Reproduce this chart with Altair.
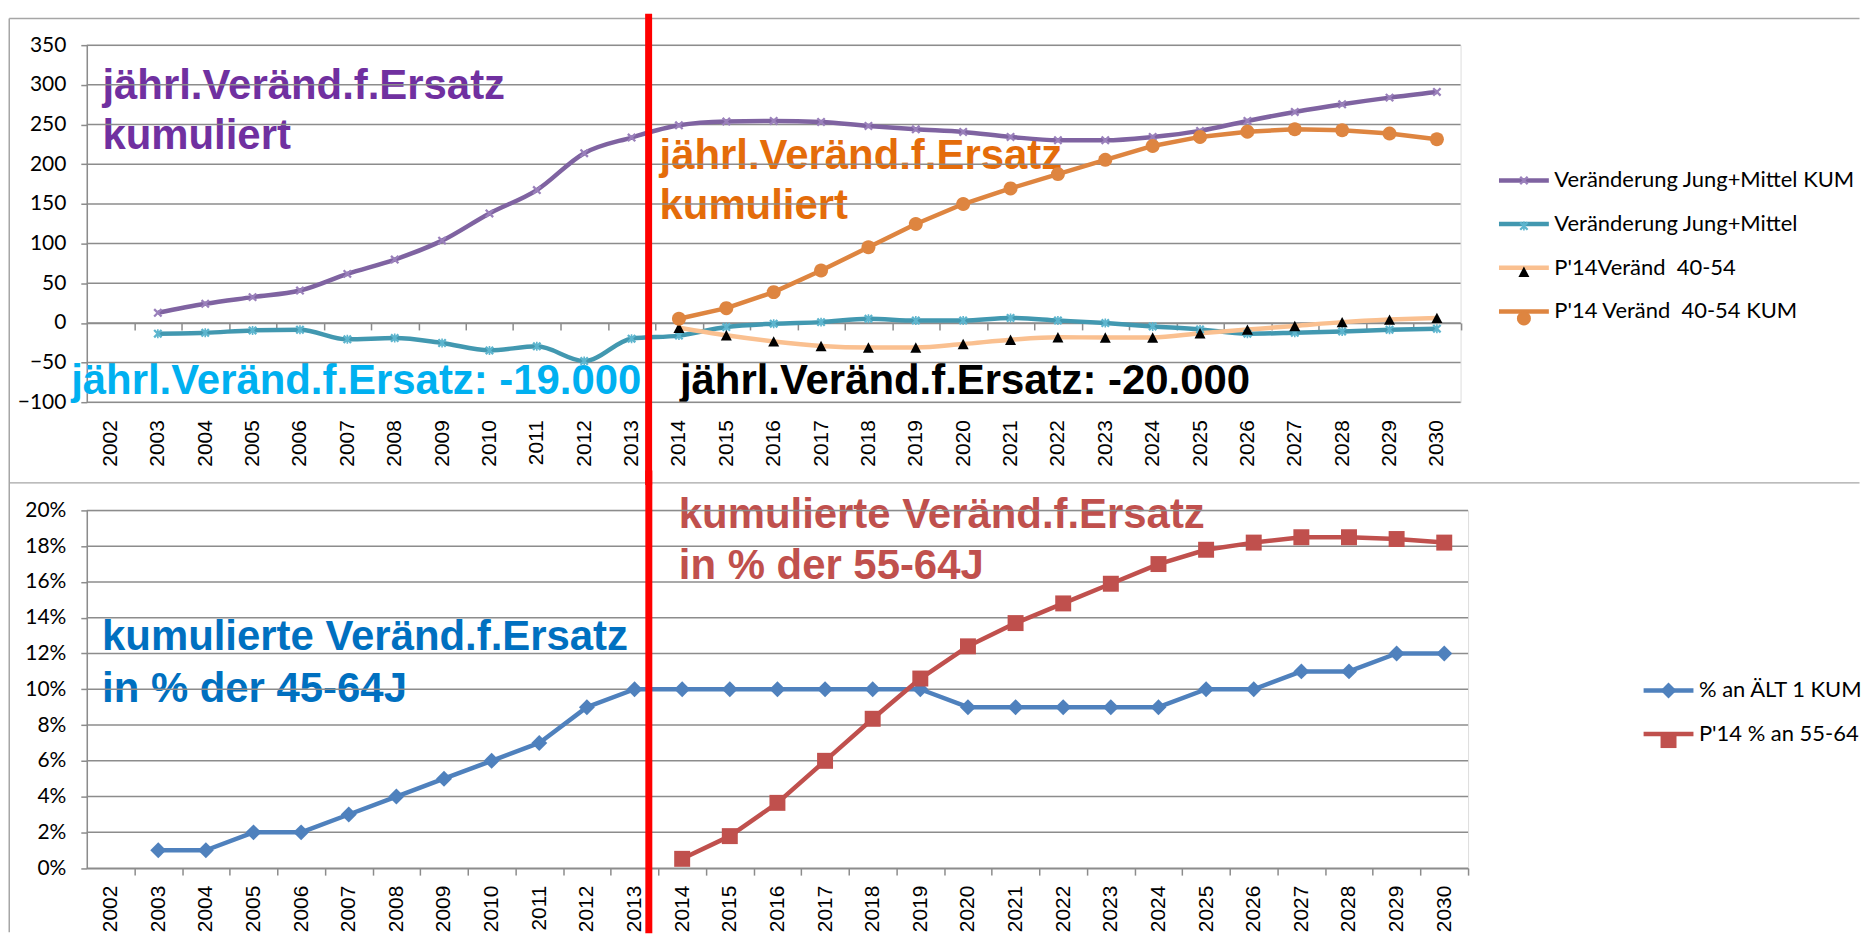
import math
import altair as alt
import pandas as pd

# ---------------- data ----------------
YEARS = list(range(2002, 2031))

TOP_SERIES = ["Veränderung Jung+Mittel KUM", "Veränderung Jung+Mittel",
              "P'14Veränd \u00a040-54", "P'14 Veränd \u00a040-54 KUM"]
TOP_MARKERS = ["mk1", "mk2", "mk3", "mk4"]

jm_kum_years = list(range(2003, 2031))
jm_kum = [12.8, 24.1, 32.5, 40.8, 61.8, 79.8, 103.7, 138.0, 167.4, 213.9, 233.6,
          249.0, 253.7, 254.5, 253.3, 248.2, 244.0, 240.7, 234.4, 230.2, 230.2,
          234.4, 242.0, 254.5, 265.8, 275.5, 283.9, 291.0]
jm_years = list(range(2003, 2031))
jm = [-13.6, -12.4, -9.4, -8.6, -20.7, -19.1, -25.3, -34.6, -29.5, -48.0, -19.9,
      -16.0, -5.2, -1.0, 1.0, 5.2, 3.0, 3.0, 6.3, 3.1, -0.2, -4.4, -8.2, -13.6,
      -12.4, -10.7, -8.6, -7.3]
p14_years = list(range(2014, 2031))
p14 = [-6.0, -15.5, -23.3, -29.0, -31.0, -31.0, -26.6, -21.2, -18.0, -18.4, -18.4,
       -13.0, -8.4, -3.8, 1.0, 4.2, 6.3]
p14_kum = [5.2, 18.6, 38.8, 66.0, 95.3, 124.7, 149.8, 169.5, 187.5, 205.5, 223.0,
           234.4, 241.0, 244.0, 242.8, 238.6, 231.5]

BOT_SERIES = ["% an ÄLT 1 KUM", "P'14 % an 55-64"]
BOT_MARKERS = ["nk1", "nk2"]
alt1_years = list(range(2003, 2031))
alt1_pct = [1, 1, 2, 2, 3, 4, 5, 6, 7, 9, 10, 10, 10, 10, 10, 10, 10, 9, 9, 9, 9, 9,
            10, 10, 11, 11, 12, 12]
p14pct_years = list(range(2014, 2031))
p14pct = [0.52, 1.79, 3.65, 6.0, 8.35, 10.6, 12.4, 13.7, 14.8, 15.9, 17.0, 17.8,
          18.2, 18.5, 18.5, 18.4, 18.2]

TOP_TICKS = list(range(-100, 351, 50))
BOT_TICKS = [i / 100 for i in range(0, 21, 2)]

# annotations (text, year-position, value-position)
TOP_ANN = [
    ("jährl.Veränd.f.Ersatz", 2001.83, 282.3, "#7030A0"),
    ("kumuliert", 2001.83, 218.6, "#7030A0"),
    ("jährl.Veränd.f.Ersatz", 2013.59, 194.3, "#E46C0A"),
    ("kumuliert", 2013.59, 131.5, "#E46C0A"),
    ("jährl.Veränd.f.Ersatz: -19.000", 2001.17, -89.3, "#00B0F0"),
    ("jährl.Veränd.f.Ersatz: -20.000", 2014.02, -89.3, "#000000"),
]
BOT_ANN = [
    ("kumulierte Veränd.f.Ersatz", 2001.82, 0.1219, "#0070C0"),
    ("in % der 45-64J", 2001.82, 0.0931, "#0070C0"),
    ("kumulierte Veränd.f.Ersatz", 2013.93, 0.1901, "#C0504D"),
    ("in % der 55-64J", 2013.93, 0.1619, "#C0504D"),
]
SPLIT_TOP = 2013.36
SPLIT_BOT = 2013.30

# ---------------- styling ----------------
GRID = "#8c8c8c"
FRAME = "#a6a6a6"
W_TOP, H_TOP = 1377.5, 358.1
W_BOT, H_BOT = 1385.0, 358.7
BAND_TOP = W_TOP / 29
BAND_BOT = W_BOT / 29
S = 2500
U = math.sqrt(S) / 2
LW = 4.5


def f(v):
    return f"{v / U:.4f}"


def path_x(a, t, star=False):
    p = (f"M{f(-a)},{f(-a + t)}L{f(-a + t)},{f(-a)}L{f(a)},{f(a - t)}L{f(a - t)},{f(a)}Z"
         f"M{f(a - t)},{f(-a)}L{f(a)},{f(-a + t)}L{f(-a + t)},{f(a)}L{f(-a)},{f(a - t)}Z")
    if star:
        p += f"M{f(-t / 2)},{f(-a)}L{f(t / 2)},{f(-a)}L{f(t / 2)},{f(a)}L{f(-t / 2)},{f(a)}Z"
    return p


def path_circle(r):
    pts = []
    for i in range(24):
        ang = 2 * math.pi * i / 24
        pts.append(f"{f(r * math.cos(ang))},{f(r * math.sin(ang))}")
    return "M" + "L".join(pts) + "Z"


def path_tri(w, h):
    return f"M0,{f(-h)}L{f(w)},{f(h)}L{f(-w)},{f(h)}Z"


def path_diamond(r):
    return f"M0,{f(-r)}L{f(r)},0L0,{f(r)}L{f(-r)},0Z"


def path_square(r):
    return f"M{f(-r)},{f(-r)}L{f(r)},{f(-r)}L{f(r)},{f(r)}L{f(-r)},{f(r)}Z"


TOP_LINE_COLORS = ["#7F63A1", "#4298B0", "#FAC090", "#DE8540"]
TOP_MARK_COLORS = ["#9A80BB", "#5DB5CE", "#000000", "#DE8540"]
TOP_PATHS = [path_x(4.5, 1.6), path_x(4.5, 1.6, star=True), path_tri(5.5, 5.2), path_circle(7.0)]
BOT_LINE_COLORS = ["#4F81BD", "#C0504D"]
BOT_MARK_COLORS = ["#4F81BD", "#C0504D"]
BOT_PATHS = [path_diamond(8.0), path_square(8.0)]

# ---------------- tables ----------------
rows = []
for yr, v in zip(jm_kum_years, jm_kum):
    rows.append((TOP_SERIES[0], TOP_MARKERS[0], yr, v))
for yr, v in zip(jm_years, jm):
    rows.append((TOP_SERIES[1], TOP_MARKERS[1], yr, v))
for yr, v in zip(p14_years, p14):
    rows.append((TOP_SERIES[2], TOP_MARKERS[2], yr, v))
for yr, v in zip(p14_years, p14_kum):
    rows.append((TOP_SERIES[3], TOP_MARKERS[3], yr, v))
top_df = pd.DataFrame(rows, columns=["series", "marker", "year", "value"])

rows = []
for yr, v in zip(alt1_years, alt1_pct):
    rows.append((BOT_SERIES[0], BOT_MARKERS[0], yr, v / 100))
for yr, v in zip(p14pct_years, p14pct):
    rows.append((BOT_SERIES[1], BOT_MARKERS[1], yr, v / 100))
bot_df = pd.DataFrame(rows, columns=["series", "marker", "year", "value"])

one = pd.DataFrame({"k": [0]})


def x_axis(offset, pad, band):
    return alt.Axis(values=[2001] + YEARS, format="d", title=None, orient="bottom",
                    offset=offset, domain=True, domainColor=GRID, domainWidth=1.5,
                    ticks=True, tickColor=GRID, tickWidth=1.5, tickSize=7,
                    tickOffset=band / 2, labelOffset=-band / 2, labelAngle=270,
                    labelPadding=pad, labelFont="Liberation Sans", labelFontSize=21,
                    labelColor="#000000", grid=False, labelOverlap=False,
                    labelFlush=False, labelBound=False,
                    labelExpr="datum.value < 2002 ? '' : datum.label")


def y_axis(values, fmt):
    return alt.Axis(values=values, format=fmt, title=None, grid=False, domain=True,
                    domainColor=GRID, domainWidth=1.5, ticks=True, tickColor=GRID,
                    tickWidth=1.5, tickSize=6, labelPadding=15, labelFont="Lato",
                    labelFontSize=21, labelColor="#000000", labelOverlap=False)


XS_TOP = alt.Scale(domain=[2001.5, 2030.5], nice=False, zero=False)
XS_BOT = alt.Scale(domain=[2001.5, 2030.5], nice=False, zero=False)
YS_TOP = alt.Scale(domain=[-100, 350], nice=False, zero=False)
YS_BOT = alt.Scale(domain=[0, 0.2], nice=False, zero=False)

XA_TOP = x_axis(-(H_TOP - 350 * H_TOP / 450), 90, BAND_TOP)
XA_BOT = x_axis(0, 10, BAND_BOT)
YA_TOP = y_axis(TOP_TICKS, "d")
YA_BOT = y_axis(BOT_TICKS, ".0%")


def legend(x, y, marker=False):
    kw = dict(title=None, orient="none", legendX=x, legendY=y, direction="vertical",
              symbolSize=S, symbolStrokeWidth=LW, labelFont="Lato", labelFontSize=22,
              labelColor="#000000", labelLimit=600, labelOffset=3, rowPadding=4.8,
              padding=0, symbolOpacity=1)
    if marker:
        kw.update(labelExpr="' '", symbolStrokeColor="transparent", zindex=2)
    else:
        kw.update(symbolType="stroke", zindex=1)
    return alt.Legend(**kw)


def panel(df, series, markers, line_colors, mark_colors, paths, smooth, straight,
          xs, xa, ys, ya, ticks, ann, split, width, height, legx, legy, frame):
    X = alt.X("year:Q", scale=xs, axis=xa)
    Y = alt.Y("value:Q", scale=ys, axis=ya)
    layers = []
    if frame:
        fr = alt.Chart(one)
        layers.append(fr.mark_rule(color=FRAME, strokeWidth=1.5).encode(
            x=alt.value(-77.75), x2=alt.value(1777.5), y=alt.value(-26.7)))
        layers.append(fr.mark_rule(color=FRAME, strokeWidth=1.5).encode(
            x=alt.value(-77.75), x2=alt.value(1777.5), y=alt.value(438.9)))
        layers.append(fr.mark_rule(color=FRAME, strokeWidth=1.5).encode(
            x=alt.value(-77.75), y=alt.value(-26.7), y2=alt.value(889.6)))
    for txt, xx, yy, col in ann:
        d = pd.DataFrame({"text": [txt], "year": [xx], "value": [yy]})
        layers.append(alt.Chart(d).mark_text(
            font="Liberation Sans", fontWeight="bold", fontSize=42, align="left",
            baseline="alphabetic", color=col).encode(x=X, y=Y, text="text:N"))
    gd = pd.DataFrame({"value": ticks})
    layers.append(alt.Chart(gd).mark_rule(color=GRID, strokeWidth=1.5).encode(
        y=Y, x=alt.value(0), x2=alt.value(width)))
    col_enc = alt.Color("series:N", scale=alt.Scale(domain=series, range=line_colors),
                        legend=legend(legx, legy))
    base = alt.Chart(df)
    if smooth:
        layers.append(base.transform_filter(
            alt.FieldOneOfPredicate(field="series", oneOf=smooth)).mark_line(
            interpolate="monotone", strokeWidth=LW, strokeJoin="round").encode(
            x=X, y=Y, color=col_enc))
    if straight:
        layers.append(base.transform_filter(
            alt.FieldOneOfPredicate(field="series", oneOf=straight)).mark_line(
            strokeWidth=LW, strokeJoin="round").encode(x=X, y=Y, color=col_enc))
    mleg = legend(legx, legy, marker=True)
    layers.append(base.mark_point(filled=True, size=S, opacity=1, strokeWidth=LW,
                                  stroke="transparent").encode(
        x=X, y=Y,
        shape=alt.Shape("marker:N", scale=alt.Scale(domain=markers, range=paths), legend=mleg),
        fill=alt.Fill("marker:N", scale=alt.Scale(domain=markers, range=mark_colors), legend=mleg)))
    sd = pd.DataFrame({"year": [split]})
    y0, y1 = (-31.4, 441.0) if frame else (-40.0, 424.0)
    layers.append(alt.Chart(sd).mark_rule(color="#FF0000", strokeWidth=7).encode(
        x=X, y=alt.value(y0), y2=alt.value(y1)))
    return alt.layer(*layers).properties(width=width, height=height)


top = panel(top_df, TOP_SERIES, TOP_MARKERS, TOP_LINE_COLORS, TOP_MARK_COLORS, TOP_PATHS,
            TOP_SERIES[:3], TOP_SERIES[3:], XS_TOP, XA_TOP, YS_TOP, YA_TOP, TOP_TICKS,
            TOP_ANN, SPLIT_TOP, W_TOP, H_TOP, 1413.5, 108.1, True)
bottom = panel(bot_df, BOT_SERIES, BOT_MARKERS, BOT_LINE_COLORS, BOT_MARK_COLORS, BOT_PATHS,
               [], BOT_SERIES, XS_BOT, XA_BOT, YS_BOT, YA_BOT, BOT_TICKS,
               BOT_ANN, SPLIT_BOT, W_BOT, H_BOT, 1558.5, 153.0, False)

chart = alt.vconcat(top, bottom, spacing=107.5, bounds="flush", padding=0).resolve_scale(
    color="independent", fill="independent", shape="independent", x="independent",
    y="independent").resolve_legend(
    color="independent", fill="independent", shape="independent").configure_view(
    stroke=None).configure(background="white")

chart.save("out.html", embed_options={"renderer": "svg", "actions": False})
